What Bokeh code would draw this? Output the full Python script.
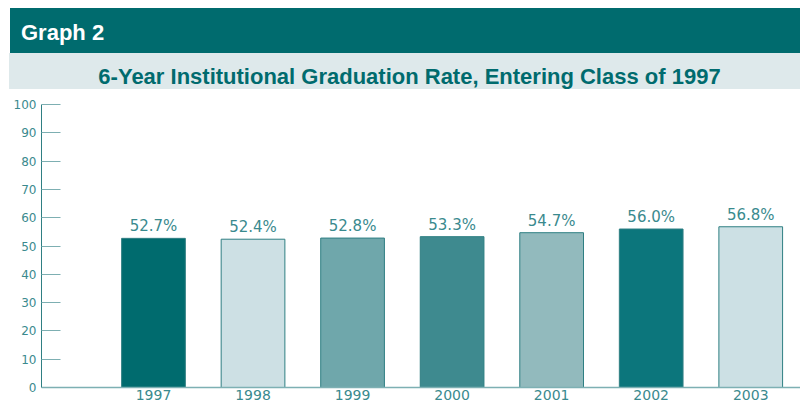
from bokeh.plotting import figure
from bokeh.models import Range1d, FixedTicker, ColumnDataSource, Div
from bokeh.layouts import column
from bokeh.core.properties import value
from bokeh.embed import file_html
from bokeh.resources import INLINE

# ---- data ----
header_text = "Graph 2"
title_text = "6-Year Institutional Graduation Rate, Entering Class of 1997"
years = ["1997", "1998", "1999", "2000", "2001", "2002", "2003"]
rates = [52.7, 52.4, 52.8, 53.3, 54.7, 56.0, 56.8]
bar_colors = ["#006B6E", "#CDE0E4", "#6FA7AB", "#3E8A8F", "#92BABD", "#0C767C", "#CCE0E4"]
y_ticks = [0, 10, 20, 30, 40, 50, 60, 70, 80, 90, 100]

DARK = "#006B6E"
LIGHT_BAND = "#DEE9EB"
LABEL = "#3A8A8E"

header = Div(
    text=(f'<div style="width:790px;height:45px;background:{DARK};color:white;overflow:hidden;'
          f'font-family:\'Liberation Sans\',Arial,sans-serif;font-weight:bold;font-size:22px;'
          f'padding-top:4px;line-height:41px;padding-left:11px;box-sizing:border-box;">{header_text}</div>'),
    width=790, height=45, margin=(8, 0, 0, 10))

title = Div(
    text=(f'<div style="width:791px;height:36px;background:{LIGHT_BAND};color:{DARK};overflow:hidden;'
          f'font-family:\'Liberation Sans\',Arial,sans-serif;font-weight:bold;font-size:22px;'
          f'padding-top:12px;line-height:24px;box-sizing:border-box;text-align:center;padding-left:10px;">'
          f'{title_text}</div>'),
    width=791, height=36, margin=(0, 0, 0, 9))

idx = list(range(len(years)))
labels = [f"{r:.1f}%" for r in rates]
src = ColumnDataSource(dict(x=idx, top=rates, color=bar_colors, label=labels))

p = figure(width=800, height=318, x_range=Range1d(-1.125, 6.5), y_range=Range1d(0, 100),
           output_backend="svg", toolbar_location=None, margin=(0, 0, 0, 0),
           min_border_left=41, min_border_right=0, min_border_top=15, min_border_bottom=20)
p.outline_line_color = None
p.xgrid.visible = False
p.ygrid.visible = False
p.background_fill_color = "white"
p.border_fill_color = "white"

p.vbar(x="x", top="top", bottom=0, width=0.64, fill_color="color",
       line_color="#2F7F83", line_width=1, source=src)

p.text(x="x", y="top", text="label", source=src, y_offset=-3,
       text_align="center", text_baseline="bottom",
       text_font=value("DejaVu Sans"), text_font_size="15px", text_color=LABEL)

ya = p.yaxis[0]
ya.ticker = FixedTicker(ticks=y_ticks)
ya.major_tick_in = 19
ya.major_tick_out = 0
ya.minor_tick_line_color = None
ya.axis_line_color = "#2F7F83"
ya.major_tick_line_color = "#7DAFB2"
ya.major_label_text_font = "DejaVu Sans"
ya.major_label_text_font_size = "12px"
ya.major_label_text_color = LABEL
ya.major_label_standoff = 5

xa = p.xaxis[0]
xa.ticker = FixedTicker(ticks=idx)
xa.major_label_overrides = {i: y for i, y in zip(idx, years)}
xa.major_tick_in = 0
xa.major_tick_out = 0
xa.minor_tick_line_color = None
xa.axis_line_color = "#7DB0B3"
xa.axis_line_width = 1.5
xa.major_label_text_font = "DejaVu Sans"
xa.major_label_text_font_size = "14px"
xa.major_label_text_color = LABEL
xa.major_label_standoff = 2

layout = column(header, title, p, spacing=0)
open("out.html", "w").write(file_html(layout, INLINE))
